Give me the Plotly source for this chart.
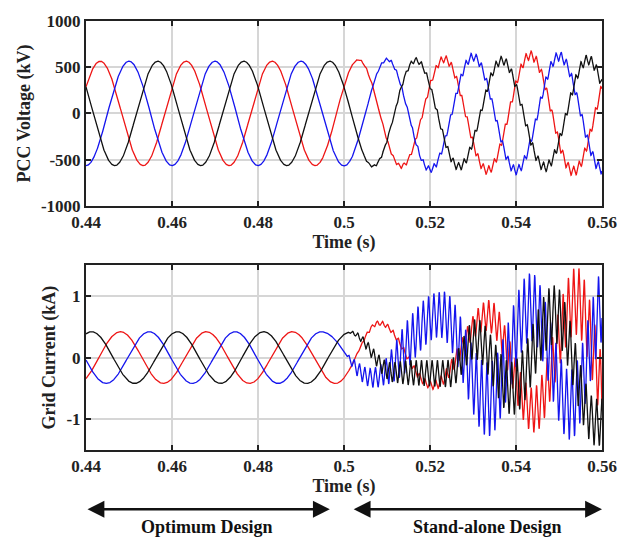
import numpy as np
import plotly.graph_objects as go

# ---------------------------------------------------------------------------
# Time window and the instant the system switches design
T_START, T_END = 0.44, 0.56
SWITCH_TIME = 0.5

x_tick_vals = [0.44, 0.46, 0.48, 0.50, 0.52, 0.54, 0.56]
x_tick_text = ["0.44", "0.46", "0.48", "0.5", "0.52", "0.54", "0.56"]
v_tick_vals = [-1000, -500, 0, 500, 1000]
v_tick_text = ["-1000", "-500", "0", "500", "1000"]
i_tick_vals = [-1, 0, 1]
i_tick_text = ["-1", "0", "1"]

# PCC voltage: fundamental peaks/troughs per phase (time s, kV)
v_red_t = [0.4333, 0.4433, 0.4533, 0.4633, 0.4733, 0.4833, 0.4933,
           0.5033, 0.5133, 0.5233, 0.5333, 0.5433, 0.5533, 0.5633]
v_red_v = [-565, 565, -565, 565, -565, 565, -565,
           580, -572, 588, -615, 628, -625, 600]
v_blue_t = [0.4300, 0.4400, 0.4500, 0.4600, 0.4700, 0.4800, 0.4900,
            0.5000, 0.5100, 0.5200, 0.5300, 0.5400, 0.5500, 0.5600]
v_blue_v = [565, -565, 565, -565, 565, -565, 565,
            -568, 582, -605, 612, -615, 618, -600]
v_black_t = [0.4367, 0.4467, 0.4567, 0.4667, 0.4767, 0.4867, 0.4967,
             0.5067, 0.5167, 0.5267, 0.5367, 0.5467, 0.5567, 0.5667]
v_black_v = [565, -565, 565, -565, 565, -565, 565,
             -570, 575, -575, 572, -580, 582, -590]
# Envelope of the high-frequency ripple on the voltage (time s, kV)
v_ripple_t = [0.44, 0.500, 0.505, 0.515, 0.525, 0.560]
v_ripple_a = [0, 0, 12, 25, 42, 55]

# Grid current: low-frequency peaks/troughs per phase (time s, kA)
i_red_t = [0.4380, 0.4480, 0.4580, 0.4680, 0.4780, 0.4880, 0.4980,
           0.5082, 0.5205, 0.5335, 0.5440, 0.5540, 0.5625]
i_red_v = [-0.42, 0.42, -0.42, 0.42, -0.42, 0.42, -0.42,
           0.56, -0.45, 0.68, -0.85, 0.92, -0.90]
i_blue_t = [0.4347, 0.4447, 0.4547, 0.4647, 0.4747, 0.4847, 0.4947,
            0.5065, 0.5225, 0.5335, 0.5435, 0.5525, 0.5615]
i_blue_v = [0.42, -0.42, 0.42, -0.42, 0.42, -0.42, 0.42,
            -0.33, 0.70, -0.68, 0.82, -0.77, 1.00]
i_black_t = [0.4313, 0.4413, 0.4513, 0.4613, 0.4713, 0.4813, 0.4913,
             0.5013, 0.5115, 0.5245, 0.5305, 0.5390, 0.5490, 0.5585]
i_black_v = [-0.42, 0.42, -0.42, 0.42, -0.42, 0.42, -0.42,
             0.41, -0.24, -0.26, 0.30, -0.50, 0.70, -1.05]
# Envelopes of the resonant oscillation on each current (time s, kA)
i_red_env_t = [0.44, 0.500, 0.505, 0.520, 0.528, 0.534, 0.544, 0.554, 0.560]
i_red_env_a = [0, 0, 0.03, 0.06, 0.15, 0.26, 0.36, 0.55, 0.55]
i_blue_env_t = [0.44, 0.500, 0.503, 0.509, 0.514, 0.522, 0.533, 0.543, 0.552, 0.560]
i_blue_env_a = [0, 0, 0.12, 0.18, 0.40, 0.36, 0.60, 0.55, 0.56, 0.60]
i_black_env_t = [0.44, 0.500, 0.503, 0.508, 0.515, 0.525, 0.531, 0.539, 0.548, 0.558, 0.560]
i_black_env_a = [0, 0, 0.04, 0.12, 0.20, 0.22, 0.33, 0.43, 0.48, 0.38, 0.38]

RIPPLE_HZ = 810.0
phase_shift = {"red": 0.0, "blue": 2.1, "black": 4.2}
colors = {"red": "#ee1515", "blue": "#1515ee", "black": "#111111"}

# ---------------------------------------------------------------------------
t = np.linspace(T_START, T_END, 9001)


def through_extrema(tt, tk, vk):
    """Smooth half-cosine swing from each peak/trough to the next."""
    tk = np.asarray(tk, float)
    vk = np.asarray(vk, float)
    k = np.clip(np.searchsorted(tk, tt, side="right") - 1, 0, len(tk) - 2)
    s = np.clip((tt - tk[k]) / (tk[k + 1] - tk[k]), 0.0, 1.0)
    return vk[k] + (vk[k + 1] - vk[k]) * (1 - np.cos(np.pi * s)) / 2


def ripple(tt, env_t, env_a, phase):
    return np.interp(tt, env_t, env_a) * np.sin(2 * np.pi * RIPPLE_HZ * tt + phase)


voltage = {
    "red": through_extrema(t, v_red_t, v_red_v) + ripple(t, v_ripple_t, v_ripple_a, phase_shift["red"]),
    "blue": through_extrema(t, v_blue_t, v_blue_v) + ripple(t, v_ripple_t, v_ripple_a, phase_shift["blue"]),
    "black": through_extrema(t, v_black_t, v_black_v) + ripple(t, v_ripple_t, v_ripple_a, phase_shift["black"]),
}
current = {
    "red": through_extrema(t, i_red_t, i_red_v) + ripple(t, i_red_env_t, i_red_env_a, phase_shift["red"]),
    "blue": through_extrema(t, i_blue_t, i_blue_v) + ripple(t, i_blue_env_t, i_blue_env_a, phase_shift["blue"]),
    "black": through_extrema(t, i_black_t, i_black_v) + ripple(t, i_black_env_t, i_black_env_a, phase_shift["black"]),
}

fig = go.Figure()
for name in ["red", "blue", "black"]:
    fig.add_trace(go.Scatter(x=t, y=voltage[name], mode="lines", xaxis="x", yaxis="y",
                             line=dict(color=colors[name], width=1.3), hoverinfo="skip"))
for name in ["red", "blue", "black"]:
    fig.add_trace(go.Scatter(x=t, y=current[name], mode="lines", xaxis="x2", yaxis="y2",
                             line=dict(color=colors[name], width=1.3), hoverinfo="skip"))

FONT = "Liberation Serif"
tick_font = dict(family=FONT, size=17, color="#222222", weight="bold")
title_font = dict(family=FONT, size=18, color="#222222", weight="bold")

common_axis = dict(
    showgrid=True, gridcolor="#d6d6d6", gridwidth=1.5,
    zeroline=False, showline=True, linecolor="#222222", linewidth=2,
    mirror="ticks", ticks="inside", ticklen=5, tickwidth=2, tickcolor="#222222",
    tickfont=tick_font,
)

fig.update_layout(
    width=630, height=540,
    margin=dict(l=86, r=28, t=16, b=90),
    paper_bgcolor="white", plot_bgcolor="white",
    showlegend=False,
    xaxis=dict(common_axis, domain=[0, 1], anchor="y", range=[T_START, T_END],
               tickvals=x_tick_vals, ticktext=x_tick_text,
               title=dict(text="Time (s)", font=title_font, standoff=3)),
    yaxis=dict(common_axis, domain=[0.5691, 1], anchor="x", range=[-1000, 1000],
               tickvals=v_tick_vals, ticktext=v_tick_text,
               title=dict(text="PCC Voltage (kV)", font=title_font, standoff=6)),
    xaxis2=dict(common_axis, domain=[0, 1], anchor="y2", range=[T_START, T_END],
                tickvals=x_tick_vals, ticktext=x_tick_text,
                title=dict(text="Time (s)", font=title_font, standoff=3)),
    yaxis2=dict(common_axis, domain=[0, 0.4309], anchor="x2", range=[-1.5, 1.5],
                tickvals=i_tick_vals, ticktext=i_tick_text,
                title=dict(text="Grid Current (kA)", font=title_font, standoff=6)),
)

# Double-headed arrows marking the two operating regions under the current plot
arrow_y = -0.138
label_y = -0.180
regions = [
    (T_START, 0.4967, 0.4681, "Optimum Design"),
    (0.5019, T_END, 0.5333, "Stand-alone Design"),
]
for x0, x1, xc, label in regions:
    fig.add_annotation(x=x1, y=arrow_y, xref="x2", yref="paper",
                       ax=x0, ay=0, axref="x2", ayref="pixel",
                       showarrow=True, arrowhead=2, arrowside="end+start",
                       arrowsize=1.3, arrowwidth=2.6, arrowcolor="#111111",
                       standoff=0, startstandoff=0, text="")
    fig.add_annotation(x=xc, y=label_y, xref="x2", yref="paper", showarrow=False,
                       text=label, font=dict(family=FONT, size=18, color="#111111", weight="bold"),
                       xanchor="center", yanchor="middle")

fig.write_html("out.html")
